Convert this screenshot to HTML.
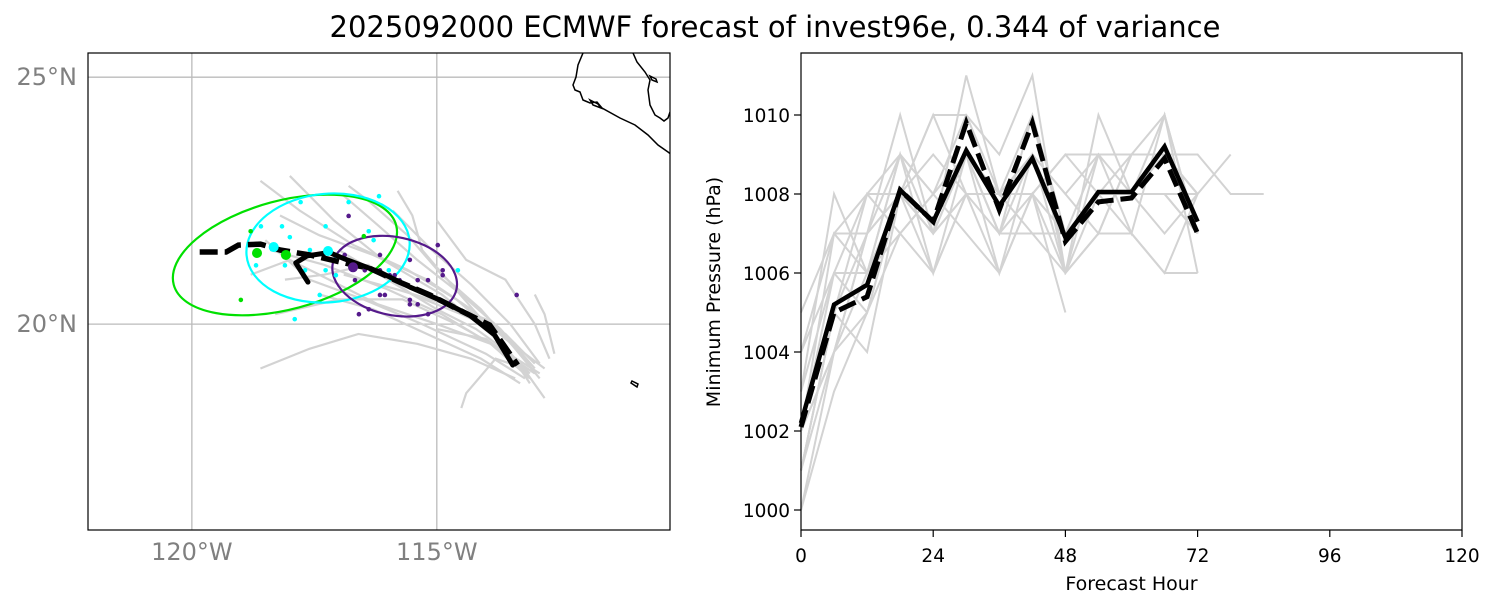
<!DOCTYPE html>
<html><head><meta charset="utf-8"><style>
body{margin:0;background:#fff;}
svg{display:block;font-family:"DejaVu Sans","Liberation Sans",sans-serif;}
</style></head><body>
<svg id="fig" width="1496" height="609" viewBox="0 0 1496 609">
<text x="775" y="37" text-anchor="middle" font-size="29" fill="#000">2025092000 ECMWF forecast of invest96e, 0.344 of variance</text>
<g id="map"></g>
<g id="pres"></g>
</svg>
<script>
const NS="http://www.w3.org/2000/svg";
function mk(parent,tag,attrs){const e=document.createElementNS(NS,tag);for(const k in attrs)e.setAttribute(k,attrs[k]);parent.appendChild(e);return e;}

/* ---------- MAP DATA ---------- */
const lonTicks=[-120,-115];
const lonTickLabels=["120°W","115°W"];
const latTicks=[20,25];
const latTickLabels=["20°N","25°N"];
const ensembleTracks=[
[[-113.2,19.0],[-113.8,19.8],[-114.6,20.5],[-115.6,21.1],[-116.7,21.6],[-117.8,22.3],[-118.6,22.9]],
[[-113.0,19.1],[-113.7,19.9],[-114.5,20.6],[-115.4,21.3],[-116.2,22.0],[-116.9,22.6]],
[[-113.1,18.9],[-113.9,19.6],[-114.9,20.2],[-116.0,20.7],[-117.3,21.2],[-118.4,21.5]],
[[-112.9,19.2],[-113.5,20.0],[-114.3,20.8],[-115.1,21.5],[-115.9,22.3]],
[[-113.3,18.8],[-114.1,19.3],[-115.2,19.8],[-116.3,20.3],[-117.4,20.6]],
[[-113.0,19.0],[-113.4,19.6],[-114.0,20.1],[-114.8,20.4],[-115.8,20.7],[-116.9,21.0]],
[[-112.7,19.3],[-113.0,20.0],[-113.6,20.9],[-114.4,21.3],[-115.0,22.1]],
[[-113.4,18.9],[-114.3,19.3],[-115.4,19.6],[-116.6,19.8],[-117.6,19.5],[-118.6,19.1]],
[[-112.6,19.4],[-112.8,20.2],[-113.0,20.6]],
[[-112.8,18.5],[-113.3,19.2],[-114.0,19.7],[-115.0,19.9]],
[[-113.1,19.0],[-113.9,19.8],[-114.9,20.6],[-116.1,21.3],[-117.1,22.1],[-117.6,22.6],[-118.0,23.0]],
[[-113.0,19.2],[-113.6,19.8],[-114.5,20.2],[-115.5,20.6],[-116.4,21.2],[-117.3,21.0],[-118.1,20.9]],
[[-113.4,19.3],[-114.0,20.0],[-114.7,20.8],[-115.3,21.5],[-115.5,22.2],[-115.8,22.7]],
[[-112.9,19.0],[-113.7,19.5],[-114.6,20.0],[-115.7,20.5],[-117.0,20.5],[-118.3,20.2]],
[[-113.2,19.1],[-113.8,19.3],[-114.4,18.6],[-114.5,18.3]],
[[-112.8,19.1],[-113.6,19.7],[-114.3,20.3],[-115.2,20.9],[-116.3,21.4],[-117.4,21.8],[-118.2,22.2]],
[[-113.1,18.8],[-113.5,19.4],[-114.2,19.9],[-115.0,20.3],[-116.0,20.9],[-117.0,21.5]],
[[-112.9,18.9],[-113.4,19.5],[-114.1,20.3],[-114.9,21.0],[-115.6,21.8],[-116.4,22.5],[-116.8,22.8]],
[[-113.0,19.0],[-113.9,19.6],[-115.0,20.0],[-116.2,20.4],[-117.2,20.9],[-118.0,21.3],[-118.8,21.0]],
[[-113.2,18.9],[-114.0,19.4],[-115.3,20.0],[-116.5,20.5],[-117.6,20.9],[-118.5,21.7]]
];
const meanTrackLon=[-117.63,-117.88,-117.65,-117.2,-116.88,-116.16,-115.55,-114.94,-114.33,-113.82,-113.45];
const meanTrackLat=[20.85,21.24,21.38,21.45,21.32,21.05,20.75,20.49,20.18,19.78,19.17];
const ctrlTrackLon=[-119.84,-119.3,-119.05,-118.6,-118.2,-117.59,-116.98,-116.37,-115.76,-115.14,-114.53,-113.92,-113.35];
const ctrlTrackLat=[21.46,21.46,21.6,21.62,21.5,21.4,21.26,21.13,20.85,20.59,20.28,19.98,19.17];
const cyanDots=[[-118.59,21.98],[-118.16,21.98],[-118.0,21.76],[-117.78,22.47],[-116.8,22.47],[-116.18,22.59],[-117.27,21.98],[-116.39,21.88],[-116.29,21.7],[-117.59,21.5],[-118.69,21.19],[-118.1,21.19],[-117.69,21.09],[-117.27,21.09],[-117.06,20.99],[-115.98,21.09],[-117.39,20.59],[-117.9,20.1],[-114.57,21.09],[-117.08,21.3]];
const purpleDots=[[-116.8,22.19],[-114.98,21.6],[-113.37,20.59],[-114.88,21.09],[-114.88,20.99],[-115.18,20.89],[-115.39,20.89],[-115.55,20.49],[-115.39,20.4],[-115.55,20.4],[-115.18,20.2],[-116.39,20.3],[-116.59,20.2],[-116.16,20.59],[-116.06,20.59],[-116.67,20.89],[-116.47,21.09],[-116.27,21.09],[-116.16,21.09],[-116.06,20.99],[-115.96,20.99],[-115.86,20.99],[-115.76,20.89],[-116.16,21.4],[-115.55,21.3],[-116.88,21.4]];
const greenDots=[[-118.8,21.88],[-116.49,21.78],[-119.0,20.49]];
const bigDots=[[-118.67,21.44,"#00e000"],[-118.08,21.4,"#00e000"],[-118.33,21.56,"#00ffff"],[-117.22,21.48,"#00ffff"],[-116.71,21.15,"#551a8b"]];
const ellipseCenters=[[-118.1,21.4],[-117.22,21.54],[-115.86,20.97]];
const ellipseRadii=[[2.35,1.1],[1.67,1.1],[1.29,0.79]];
const ellipseAngles=[15,5,-12];
const ellipseColors=["#00e000","#00ffff","#551a8b"];

/* ---------- PRESSURE DATA ---------- */
const hourTicks=[0,24,48,72,96,120];
const presTicks=[1000,1002,1004,1006,1008,1010];
const meanHours=[0,6,12,18,24,30,36,42,48,54,60,66,72];
const meanPres=[1002.2,1005.2,1005.7,1008.1,1007.3,1009.1,1007.7,1008.9,1006.9,1008.05,1008.05,1009.2,1007.3];
const ctrlPres=[1002.1,1005.0,1005.4,1008.1,1007.3,1009.8,1007.6,1009.8,1006.8,1007.8,1007.9,1008.9,1007.0];
const memberPres=[
[1001,1004,1007,1009,1008,1010,1009,1011,1006,1009,1009,1010,1006],
[1002,1007,1007,1010,1007,1011,1008,1010,1007,1008,1009,1009,1008],
[1000,1003,1005,1008,1010,1010,1008,1009,1006,1010,1008,1008,1007],
[1003,1008,1006,1009,1006,1009,1007,1008,1009,1009,1009,1009,1009,1008,1008],
[1001,1005,1007,1008,1009,1008,1006,1008,1007,1008,1008,1010,1007],
[1002,1006,1006,1007,1008,1009,1007,1010,1006,1007,1009,1009,1008,1009],
[1004,1007,1006,1009,1007,1008,1008,1008,1005],
[1001,1005,1004,1008,1006,1008,1007,1007,1007,1008,1007,1006,1006],
[1003,1006,1008,1009,1008,1009,1007,1009,1008,1009,1007,1010,1007],
[1002,1004,1005,1007,1008,1007,1006,1008,1006,1007,1007,1006,1008],
[1000,1004,1007,1008,1007,1008,1008,1008,1009,1008,1008,1009,1009],
[1005,1007,1008,1008,1010,1008,1008,1009,1007,1009,1008,1008,1007],
[1001,1005,1008,1007,1006,1008,1008,1007,1006,1008,1008,1007,1008],
[1002,1004,1006,1008,1007,1009,1006,1009,1008,1007,1009,1009,1008],
[1004,1006,1005,1008,1007,1009,1008,1008,1007,1008,1008,1008,1008]
];

/* ---------- MAP DRAW ---------- */
const map=document.getElementById('map');
const M={x0:88,x1:670,y0:53,y1:530,lon0:-122.12,lon1:-110.24,lat0:15.83,lat1:25.49};
const mx=lon=>M.x0+(lon-M.lon0)/(M.lon1-M.lon0)*(M.x1-M.x0);
const my=lat=>M.y1-(lat-M.lat0)/(M.lat1-M.lat0)*(M.y1-M.y0);
mk(map,'defs',{}).innerHTML='<clipPath id="mclip"><rect x="88" y="53" width="582" height="477"/></clipPath>';
const mg=mk(map,'g',{'clip-path':'url(#mclip)'});
lonTicks.forEach((t,i)=>{const l=mk(mg,'line',{x1:mx(t),x2:mx(t),y1:M.y0,y2:M.y1,stroke:'#bbb','stroke-width':1.3});


const tx=mk(map,'text',{x:mx(t),y:560,'text-anchor':'middle','font-size':24,fill:'#808080'});tx.textContent=lonTickLabels[i];

});
latTicks.forEach((t,i)=>{const l=mk(mg,'line',{x1:M.x0,x2:M.x1,y1:my(t),y2:my(t),stroke:'#bbb','stroke-width':1.3});


const tx=mk(map,'text',{x:77,y:my(t)+8,'text-anchor':'end','font-size':24,fill:'#808080'});tx.textContent=latTickLabels[i];

});
const coast=mk(mg,'path',{d:'M583,53 L578,65 L576,77 L573,85 L575,90 L580,92 L583,100 L590,103 L597,102 L602,108 L620,118 L635,125 L648,135 L658,145 L668,152 L672,155 M590,100 L598,104 L601,108 L593,105 Z M633,53 L637,62 L645,72 L650,80 L648,90 L650,105 L655,115 L660,118 L664,121 L668,118 L670,112 M650,76 L656,79 L657,82 L652,80 Z M632,381 L638,384 L637,387 L631,383 Z',fill:'none',stroke:'#000','stroke-width':1.5});


ensembleTracks.forEach(tr=>{const p=mk(mg,'polyline',{points:tr.map(q=>mx(q[0])+','+my(q[1])).join(' '),fill:'none',stroke:'#d3d3d3','stroke-width':2.2});

});
ellipseCenters.forEach((c,i)=>{const cx=mx(c[0]),cy=my(c[1]);
const rx=ellipseRadii[i][0]*(M.x1-M.x0)/(M.lon1-M.lon0),ry=ellipseRadii[i][1]*(M.y1-M.y0)/(M.lat1-M.lat0);
const e=mk(mg,'ellipse',{cx:cx,cy:cy,rx:rx,ry:ry,transform:`rotate(${-ellipseAngles[i]} ${cx} ${cy})`,fill:'none',stroke:ellipseColors[i],'stroke-width':2.2});

});
[[cyanDots,'#00ffff'],[purpleDots,'#551a8b'],[greenDots,'#00e000']].forEach(([arr,col])=>arr.forEach(d=>{const c=mk(mg,'circle',{cx:mx(d[0]),cy:my(d[1]),r:2.3,fill:col});

}));
const ctrl=mk(mg,'polyline',{points:ctrlTrackLon.map((v,i)=>mx(v)+','+my(ctrlTrackLat[i])).join(' '),fill:'none',stroke:'#000','stroke-width':5.5,'stroke-dasharray':'18,7'});


const mean=mk(mg,'polyline',{points:meanTrackLon.map((v,i)=>mx(v)+','+my(meanTrackLat[i])).join(' '),fill:'none',stroke:'#000','stroke-width':5,'stroke-linejoin':'round','stroke-linecap':'round'});


bigDots.forEach(d=>{const c=mk(mg,'circle',{cx:mx(d[0]),cy:my(d[1]),r:5,fill:d[2]});

});
const mf=mk(map,'rect',{x:88,y:53,width:582,height:477,fill:'none',stroke:'#000','stroke-width':1.2});



/* ---------- PRESSURE DRAW ---------- */
const pres=document.getElementById('pres');
const P={x0:801,x1:1462,y0:53,y1:530};
const px=h=>P.x0+h/120*(P.x1-P.x0);
const py=v=>510-(v-1000)*39.5;
memberPres.forEach(m=>{const p=mk(pres,'polyline',{points:m.map((v,i)=>px(i*6)+','+py(v)).join(' '),fill:'none',stroke:'#d3d3d3','stroke-width':2});

});
const cl=mk(pres,'polyline',{points:ctrlPres.map((v,i)=>px(meanHours[i])+','+py(v)).join(' '),fill:'none',stroke:'#000','stroke-width':5,'stroke-dasharray':'18,7'});


const ml=mk(pres,'polyline',{points:meanPres.map((v,i)=>px(meanHours[i])+','+py(v)).join(' '),fill:'none',stroke:'#000','stroke-width':4.5});


mk(pres,'path',{d:`M${P.x0},${P.y0} V${P.y1} H${P.x1} V${P.y0} Z`,fill:'none',stroke:'#000','stroke-width':1.2});
hourTicks.forEach(t=>{mk(pres,'line',{x1:px(t),x2:px(t),y1:P.y1,y2:P.y1+7,stroke:'#000','stroke-width':1.2});
const tx=mk(pres,'text',{x:px(t),y:562,'text-anchor':'middle','font-size':18.5});tx.textContent=t;

});
presTicks.forEach(t=>{mk(pres,'line',{x1:P.x0-7,x2:P.x0,y1:py(t),y2:py(t),stroke:'#000','stroke-width':1.2});
const tx=mk(pres,'text',{x:P.x0-11,y:py(t)+7,'text-anchor':'end','font-size':18.5});tx.textContent=t;

});
const xt=mk(pres,'text',{x:(P.x0+P.x1)/2,y:590,'text-anchor':'middle','font-size':19});xt.textContent='Forecast Hour';


const yt=mk(pres,'text',{x:0,y:0,'text-anchor':'middle','font-size':19,transform:'translate(720,292) rotate(-90)'});yt.textContent='Minimum Pressure (hPa)';


</script>
</body></html>
